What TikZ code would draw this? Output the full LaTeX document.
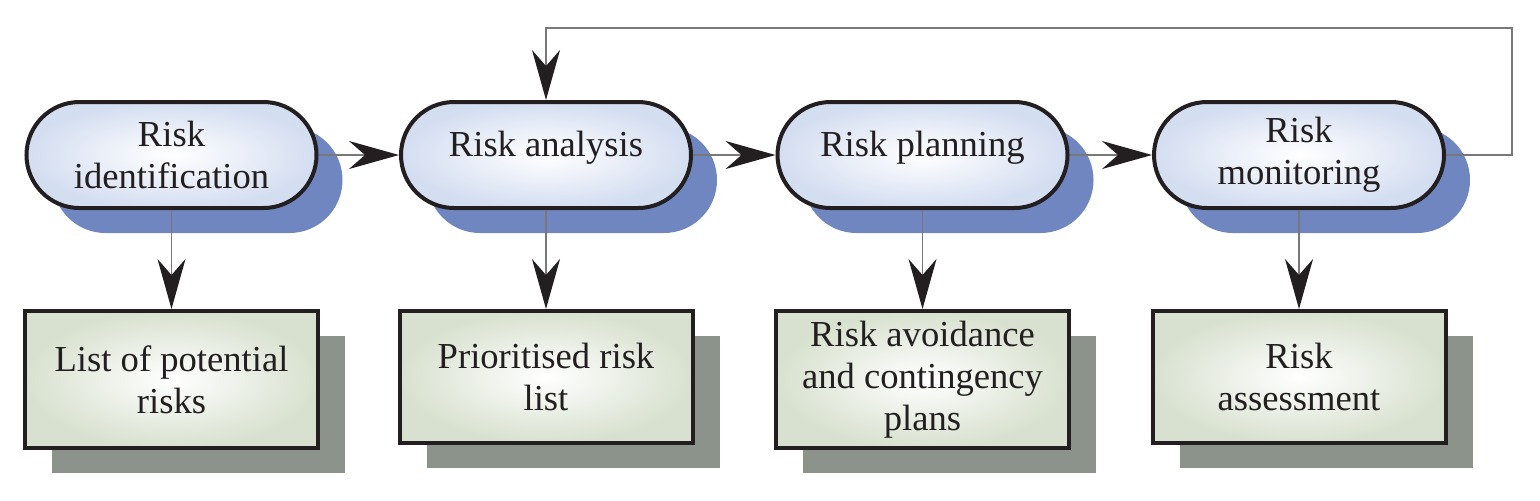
\documentclass[tikz,border=0pt]{standalone}
\usepackage{fontspec}
\setmainfont{Liberation Serif}
\newfontfamily\stepfont{Liberation Serif}
\usetikzlibrary{arrows.meta,shadows}
\definecolor{stageshadow}{RGB}{111,134,192}
\definecolor{stageedge}{RGB}{212,222,241}
\definecolor{docshadow}{RGB}{139,147,139}
\definecolor{docedge}{RGB}{216,225,207}
\definecolor{outline}{RGB}{35,31,32}
\definecolor{wire}{RGB}{120,120,120}
\begin{document}
\begin{tikzpicture}[x=0.5pt,y=-0.5pt,
        stage/.style={draw=outline,line width=2pt,inner color=white,outer color=stageedge,
            rounded corners=26.5pt,minimum width=145pt,minimum height=53pt,inner sep=2pt,
            align=center,text=outline,font=\stepfont\fontsize{18.3}{21}\selectfont,
            drop shadow={shadow xshift=13pt,shadow yshift=-12.5pt,fill=stageshadow,opacity=1}},
        doc/.style={draw=outline,line width=2pt,inner color=white,outer color=docedge,
            minimum width=146.5pt,inner sep=2pt,
            align=center,text=outline,font=\stepfont\fontsize{18.3}{21}\selectfont,
            drop shadow={shadow xshift=13.5pt,shadow yshift=-12.5pt,fill=docshadow,opacity=1}},
        flow/.style={draw=wire,line width=0.7pt,-{Stealth[length=25pt,width=14pt,inset=8pt,color=outline]}}]
        \useasboundingbox (0,0) rectangle (1540,500);
        %% Process steps
        \node[stage] (ident) at (171.5,155) {Risk\\identification};
        \node[stage,text height=12pt,text depth=11pt] (analysis) at (546,155) {Risk analysis};
        \node[stage,text height=12pt,text depth=11pt] (planning) at (922.5,155) {Risk planning};
        \node[stage] (monitor) at (1299,155) {Risk\\monitoring};
        %% Outputs
        \node[doc,minimum height=68.5pt] (risks) at (171.5,379.5) {List of potential\\risks};
        \node[doc,minimum height=66pt] (prio) at (546,377) {Prioritised risk\\list};
        \node[doc,minimum height=68.5pt] (plans) at (922.5,379.5) {Risk avoidance\\and contingency\\plans};
        \node[doc,minimum height=66pt] (assess) at (1299,377) {Risk\\assessment};
        %% Arrows
        \draw[flow] (ident) -- (analysis);
        \draw[flow] (analysis) -- (planning);
        \draw[flow] (planning) -- (monitor);
        \draw[flow] (ident) -- (risks);
        \draw[flow] (analysis) -- (prio);
        \draw[flow] (planning) -- (plans);
        \draw[flow] (monitor) -- (assess);
        \coordinate (loop) at (1512,28);
        \draw[flow] (monitor.east) -| (loop) -| (analysis.north);
    \end{tikzpicture}
\end{document}
